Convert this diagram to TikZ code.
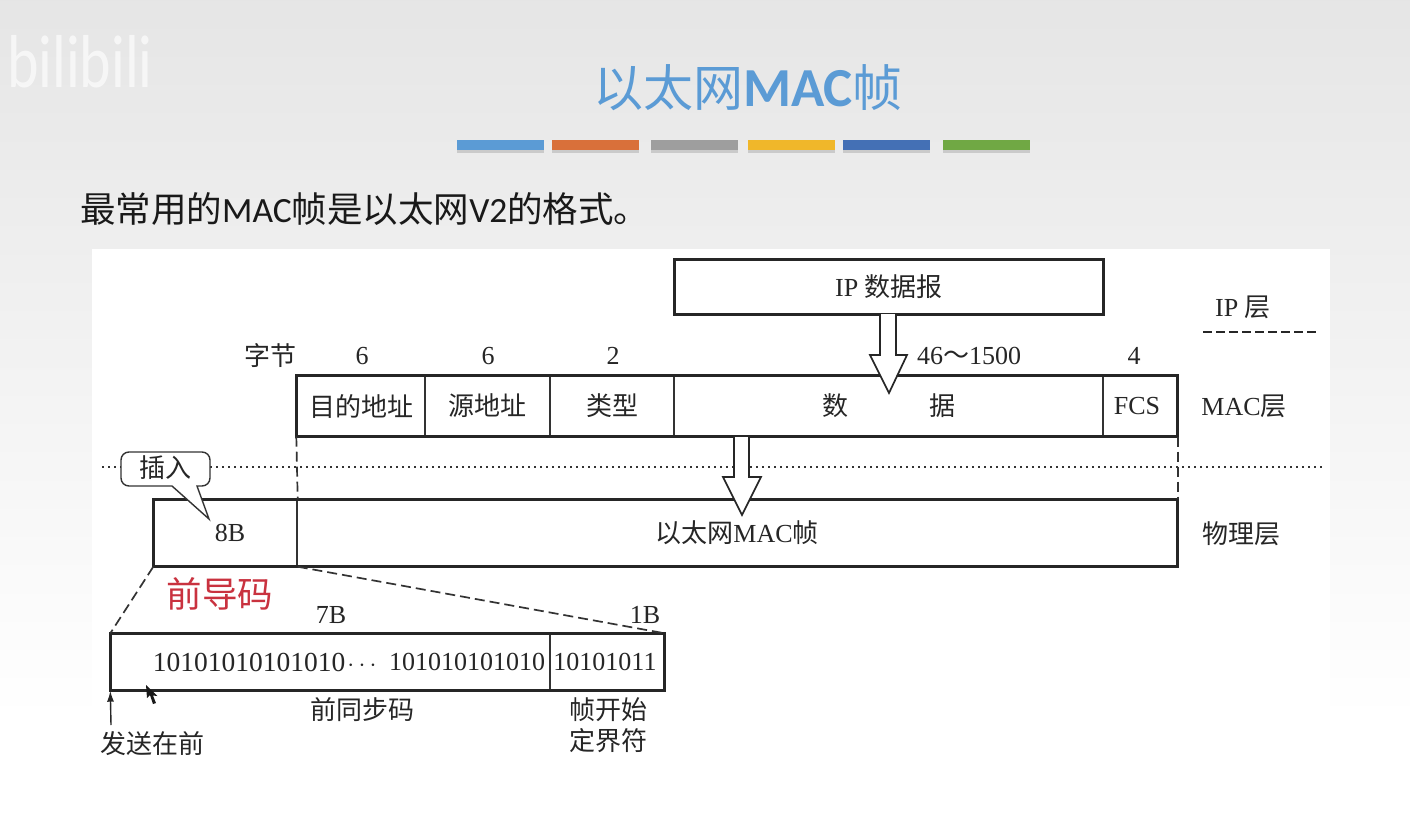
\documentclass[tikz,border=0pt]{standalone}
\usepackage{fontspec}
\setmainfont{Liberation Serif}
\setsansfont{Carlito}
\newfontfamily\cjk{Noto Sans CJK SC}
\usetikzlibrary{shadows,arrows.meta}
\definecolor{titleblue}{HTML}{5B9BD5}
\definecolor{barorange}{HTML}{D9703A}
\definecolor{bargray}{HTML}{9E9E9E}
\definecolor{baryellow}{HTML}{F0B72A}
\definecolor{barblue}{HTML}{4470B5}
\definecolor{bargreen}{HTML}{70A844}
\definecolor{prered}{HTML}{C9323F}
\tikzset{
  lab/.style={inner sep=0pt,font=\fontsize{26}{29}\selectfont,text=black!85},
  cell/.style={draw=black!80,line width=1.4pt,inner sep=0pt,font=\fontsize{26}{29}\selectfont,text=black!85},
  outer/.style={draw=black!85,line width=2.5pt},
  dashline/.style={draw=black!80,line width=1.7pt,dash pattern=on 10pt off 5pt},
  fatarrow/.style={draw=black!85,fill=white,line width=1.7pt,line join=miter},
  bar/.style={drop shadow={shadow xshift=0pt,shadow yshift=-3pt,opacity=0.3},draw=none}
}
\begin{document}
\begin{tikzpicture}[x=1pt,y=-1pt]
\useasboundingbox (0,0) rectangle (1410,824);
\fill[white] (0,0) rectangle (1410,824);
\shade[top color=black!10,bottom color=white] (0,0) rectangle (1410,720);
\fill[white] (92,249) rectangle (1330,765);
\node[white,opacity=0.65,inner sep=0pt,yscale=1.25,font=\sffamily\fontsize{60}{60}\selectfont] (logo) at (80,62) {bilibili};
\node[inner sep=0pt,text=titleblue,font=\fontsize{50}{52}\selectfont] (title) at (748,88) {\cjk 以太网\sffamily\bfseries\fontsize{55}{52}\selectfont MAC\cjk\mdseries\fontsize{50}{52}\selectfont 帧};
\fill[bar,titleblue] (457,140) rectangle (544,150);
\fill[bar,barorange] (552,140) rectangle (639,150);
\fill[bar,bargray] (651,140) rectangle (738,150);
\fill[bar,baryellow] (748,140) rectangle (835,150);
\fill[bar,barblue] (843,140) rectangle (930,150);
\fill[bar,bargreen] (943,140) rectangle (1030,150);
\node[inner sep=0pt,anchor=west,text=black!90,font=\fontsize{35.5}{38}\selectfont] (intro) at (80,209) {\cjk 最常用的\sffamily MAC\cjk 帧是以太网\sffamily V2\cjk 的格式。};

\draw[black!80,line width=1.5pt,dash pattern=on 2pt off 4pt] (102,467)--(1325,467);
\draw[black!85,line width=1.4pt,dash pattern=on 9pt off 4pt] (1203,332)--(1316,332);

\node[cell,minimum width=428pt,minimum height=54pt] (ip) at (889,287) {IP {\cjk 数据报}};
\draw[outer] (ip.north west) rectangle (ip.south east);

\node[cell,minimum width=128pt,minimum height=60pt] (dst) at (361,406) {\cjk 目的地址};
\node[cell,minimum width=125pt,minimum height=60pt] (src) at (487.5,406) {\cjk 源地址};
\node[cell,minimum width=124pt,minimum height=60pt] (kind) at (612,406) {\cjk 类型};
\node[cell,minimum width=429pt,minimum height=60pt] (data) at (888.5,406) {\cjk 数\hspace{81pt}据};
\node[cell,minimum width=74pt,minimum height=60pt] (fcs) at (1140,406) {\hspace*{-6pt}FCS};
\draw[outer] (dst.north west) rectangle (fcs.south east);

\node[cell,minimum width=143pt,minimum height=66pt] (pre) at (225.5,533) {\hspace*{9pt}8B};
\node[cell,minimum width=880pt,minimum height=66pt] (frame) at (737,533) {{\cjk 以太网}MAC{\cjk 帧}};
\draw[outer] (pre.north west) rectangle (frame.south east);

\node[cell,minimum width=439pt,minimum height=56pt] (sync) at (330.5,662) {};
\node[cell,minimum width=114pt,minimum height=56pt] (sfd) at (607,662) {\hspace*{-4pt}10101011};
\draw[outer] (sync.north west) rectangle (sfd.south east);
\node[lab,font=\fontsize{27.5}{30}\selectfont] (bitsa) at (249,662) {10101010101010};
\node[lab] (dots) at (362,666) {$\cdots$};
\node[lab] (bitsb) at (467,662) {101010101010};

\draw[dashline] (dst.south west)--(pre.north east);
\draw[dashline] (fcs.south east)--(frame.north east);
\draw[dashline] (pre.south west)--(sync.north west);
\draw[dashline] (pre.south east)--(sfd.north east);

\draw[fatarrow] (880,314)--(880,355)--(870,355)--(889,393)--(907,355)--(896,355)--(896,314);
\draw[fatarrow] (734,437)--(734,477)--(723,477)--(742,515)--(761,477)--(749,477)--(749,437);

\draw[draw=black!80,fill=white,line width=1.4pt] (172,486)
  [rounded corners=8pt]--(121,486)--(121,452)--(210,452)--(210,486)[sharp corners]--(197,486)--(209,519)--cycle;
\node[lab] (insert) at (165,468) {\cjk 插入};

\node[lab] (bytes) at (270,356) {\cjk 字节};
\node[lab] (numa) at (362,356) {6};
\node[lab] (numb) at (488,356) {6};
\node[lab] (numc) at (613,356) {2};
\node[lab] (numd) at (969,356) {46{\cjk ～}1500};
\node[lab] (nume) at (1134,356) {4};
\node[lab] (iplayer) at (1243,307) {IP {\cjk 层}};
\node[lab] (maclayer) at (1244,406) {MAC{\cjk 层}};
\node[lab] (phylayer) at (1241,534) {\cjk 物理层};

\node[inner sep=0pt,text=prered,font=\fontsize{35.5}{38}\selectfont] (preamble) at (220,594) {\cjk 前导码};
\node[lab] (sevenb) at (331,615) {7B};
\node[lab] (oneb) at (645,615) {1B};
\node[lab] (syncname) at (362,710) {\cjk 前同步码};
\node[lab] (sfdname) at (608,710) {\cjk 帧开始};
\node[lab] (sfdnameb) at (608,741) {\cjk 定界符};
\node[lab] (first) at (152,744) {\cjk 发送在前};
\coordinate (firsttail) at (111,725);
\draw[black!85,line width=1.4pt,-{Latex[length=11pt,width=7pt]}] (firsttail)--(sync.south west);
\fill[black!90] (146,685)--(147,698)--(150,695)--(153,704)--(156,703)--(153,695.5)--(157.5,696)--cycle;
\end{tikzpicture}
\end{document}
